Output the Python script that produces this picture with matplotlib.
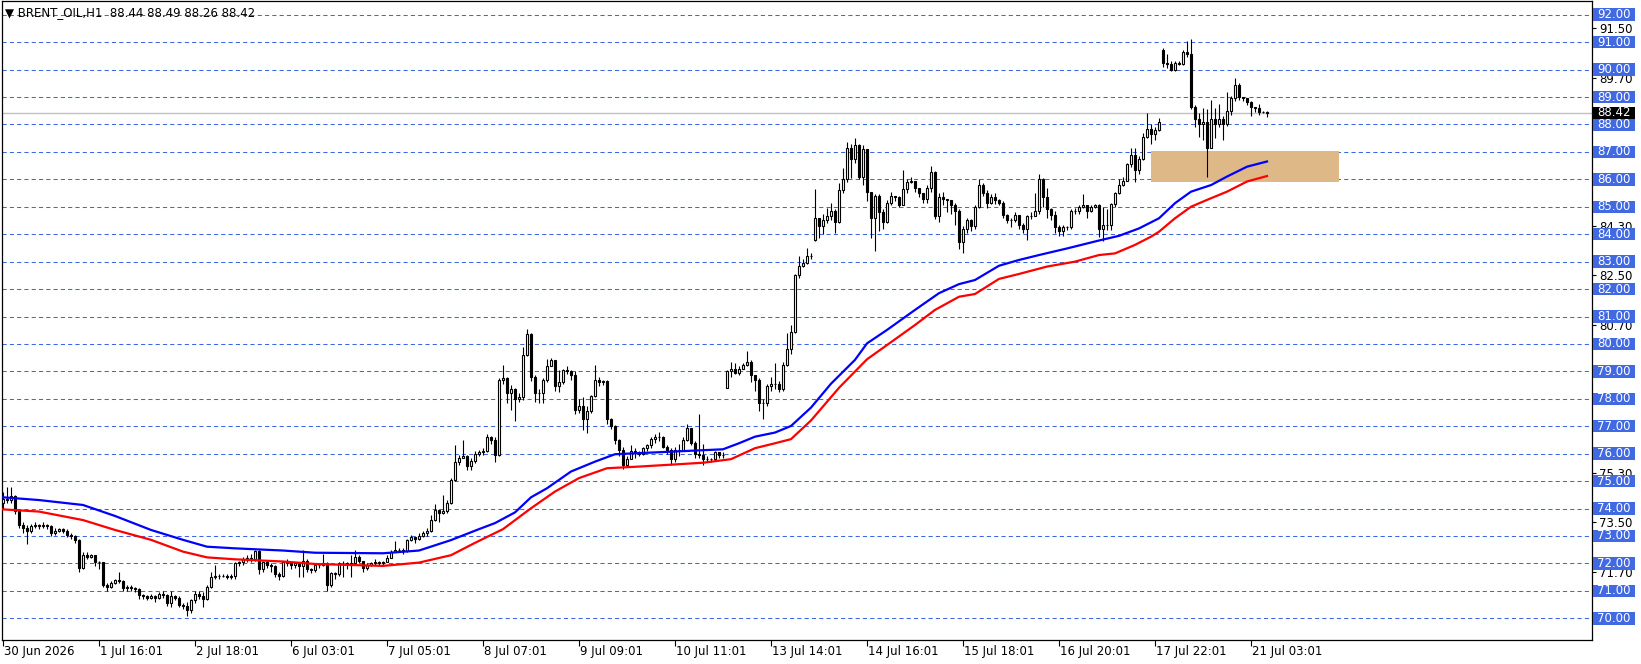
import matplotlib
matplotlib.use("Agg")
import matplotlib.pyplot as plt
from matplotlib.patches import Rectangle
import numpy as np

plt.rcParams["font.family"] = ["DejaVu Sans"]

# datos de velas H1, una fila = 10 velas
close = [
    74.35, 74.30, 74.45, 73.90, 73.40, 73.30, 73.20, 73.35, 73.40, 73.35,
    73.40, 73.35, 73.10, 73.20, 73.25, 73.20, 73.05, 73.00, 72.85, 71.85,
    72.30, 72.25, 72.30, 72.05, 72.05, 71.20, 71.15, 71.30, 71.40, 71.35,
    71.10, 71.15, 71.10, 71.05, 70.85, 70.80, 70.75, 70.80, 70.75, 70.90,
    70.85, 70.55, 70.80, 70.75, 70.50, 70.45, 70.30, 70.65, 70.90, 70.80,
    70.70, 71.15, 71.50, 71.55, 71.55, 71.55, 71.50, 71.55, 72.00, 72.05,
    72.15, 72.20, 72.15, 72.45, 71.80, 72.05, 71.95, 71.90, 71.60, 71.55,
    72.05, 72.00, 71.95, 72.00, 71.90, 72.10, 71.80, 71.75, 71.95, 71.95,
    72.00, 71.20, 71.65, 71.60, 72.00, 72.00, 71.95, 72.00, 72.25, 72.10,
    71.85, 71.95, 72.00, 72.05, 72.00, 72.05, 72.20, 72.40, 72.50, 72.50,
    72.45, 72.85, 72.95, 72.90, 73.00, 73.10, 73.20, 73.60, 73.95, 73.85,
    73.90, 74.20, 75.05, 75.70, 75.85, 75.90, 75.55, 75.75, 76.00, 76.05,
    76.10, 76.60, 76.50, 75.95, 78.70, 78.75, 78.20, 78.35, 78.00, 78.05,
    79.60, 80.35, 78.80, 78.20, 78.20, 78.70, 79.20, 79.40, 78.45, 78.60,
    79.05, 79.00, 78.85, 77.60, 77.75, 77.25, 77.55, 78.10, 78.70, 78.60,
    78.65, 77.25, 77.00, 76.50, 76.15, 75.60, 75.80, 76.10, 76.05, 76.00,
    76.20, 76.30, 76.55, 76.60, 76.60, 76.25, 76.15, 75.80, 76.15, 76.15,
    76.50, 76.95, 76.40, 76.00, 75.95, 75.80, 75.80, 75.80, 76.05, 75.95,
    75.95, 79.00, 79.10, 78.95, 79.10, 79.25, 79.35, 78.85, 78.70, 77.85,
    77.85, 78.45, 78.55, 78.55, 78.35, 79.25, 79.80, 80.45, 82.50, 82.85,
    82.95, 83.20, 83.20, 84.60, 84.30, 84.50, 84.65, 84.85, 84.45, 85.60,
    86.00, 87.15, 86.75, 87.25, 86.10, 87.10, 85.55, 84.60, 85.40, 84.80,
    84.45, 85.15, 85.40, 85.35, 85.05, 85.65, 85.90, 85.95, 85.70, 85.50,
    85.30, 85.70, 86.25, 84.65, 85.35, 85.30, 85.25, 85.05, 84.85, 83.70,
    84.20, 84.50, 84.30, 85.00, 85.80, 85.50, 85.15, 85.35, 85.25, 85.15,
    84.70, 84.50, 84.50, 84.70, 84.35, 84.20, 84.65, 84.65, 84.85, 86.00,
    85.35, 84.90, 84.70, 84.25, 84.10, 84.25, 84.25, 84.85, 84.85, 85.00,
    85.05, 84.85, 85.00, 85.05, 84.20, 84.35, 84.35, 85.10, 85.50, 85.80,
    85.95, 86.55, 86.90, 86.35, 86.75, 87.55, 87.85, 87.65, 87.80, 88.10,
    90.25, 90.20, 90.00, 90.25, 90.20, 90.65, 90.55, 88.65, 88.20, 88.00,
    88.10, 87.15, 88.20, 88.00, 88.20, 88.00, 88.50, 88.95, 89.45, 89.00,
    88.95, 88.80, 88.65, 88.60, 88.45, 88.44, 88.42,
]

high = [
    74.60, 74.80, 74.80, 74.50, 73.90, 73.50, 73.40, 73.45, 73.50, 73.45,
    73.50, 73.45, 73.40, 73.30, 73.30, 73.30, 73.25, 73.10, 73.05, 72.90,
    72.40, 72.40, 72.35, 72.30, 72.10, 72.05, 71.30, 71.35, 71.45, 71.70,
    71.40, 71.20, 71.20, 71.15, 71.10, 70.90, 70.85, 70.90, 70.85, 70.95,
    71.00, 70.90, 71.00, 70.85, 70.80, 70.55, 70.60, 70.70, 71.00, 71.00,
    70.95, 71.20, 71.70, 71.95, 71.60, 71.60, 71.60, 71.60, 72.05, 72.10,
    72.25, 72.30, 72.35, 72.50, 72.50, 72.10, 72.10, 72.00, 71.95, 71.70,
    72.10, 72.15, 72.05, 72.05, 72.00, 72.50, 72.15, 71.85, 72.00, 72.00,
    72.35, 72.05, 71.70, 71.70, 72.05, 72.10, 72.05, 72.30, 72.50, 72.30,
    72.10, 72.00, 72.05, 72.15, 72.10, 72.10, 72.30, 72.50, 72.80, 72.55,
    72.55, 72.90, 73.05, 73.00, 73.10, 73.20, 73.30, 73.75, 74.15, 74.00,
    74.50, 74.30, 75.10, 76.30, 75.95, 76.50, 75.95, 75.85, 76.10, 76.15,
    76.20, 76.70, 76.65, 76.60, 78.75, 79.25, 78.80, 78.50, 78.40, 78.20,
    79.90, 80.55, 80.40, 78.85, 78.35, 78.75, 79.45, 79.50, 78.60, 79.05,
    79.10, 79.20, 79.05, 79.00, 78.00, 78.05, 77.75, 78.15, 79.25, 78.80,
    78.70, 78.70, 77.30, 77.05, 76.55, 76.25, 75.90, 76.30, 76.20, 76.10,
    76.25, 76.35, 76.60, 76.70, 76.80, 76.65, 76.30, 76.20, 76.25, 76.35,
    76.60, 77.10, 76.95, 76.45, 77.45, 76.35, 75.90, 75.85, 76.10, 76.05,
    76.05, 79.05, 79.35, 79.30, 79.20, 79.30, 79.75, 79.40, 78.85, 78.75,
    78.00, 78.55, 78.80, 79.30, 78.65, 79.35, 80.40, 80.70, 82.55, 83.20,
    83.10, 83.50, 83.30, 85.65, 84.55, 84.75, 84.95, 85.15, 84.90, 85.85,
    86.40, 87.35, 87.30, 87.50, 87.30, 87.25, 87.10, 85.50, 85.45, 85.45,
    84.90, 85.25, 85.55, 85.40, 85.40, 86.35, 86.00, 86.10, 85.85, 85.60,
    85.45, 85.80, 86.50, 86.30, 85.50, 85.55, 85.30, 85.15, 85.15, 84.90,
    84.30, 84.60, 84.55, 85.05, 86.00, 85.85, 85.60, 85.45, 85.50, 85.30,
    85.20, 84.75, 84.60, 84.80, 84.65, 84.40, 84.70, 84.80, 85.50, 86.20,
    86.05, 85.70, 84.95, 84.85, 84.35, 84.35, 84.30, 84.90, 84.95, 85.05,
    85.45, 85.05, 85.05, 85.10, 85.10, 85.00, 84.90, 85.15, 85.55, 86.00,
    86.10, 86.60, 87.15, 87.15, 86.85, 87.70, 88.40, 88.00, 87.90, 88.25,
    90.80, 90.55, 90.30, 90.30, 90.30, 90.70, 91.05, 91.10, 88.70, 88.40,
    88.60, 88.55, 88.90, 88.60, 88.75, 88.30, 89.20, 89.05, 89.70, 89.50,
    89.00, 88.95, 88.85, 88.65, 88.75, 88.50, 88.49,
]

low = [
    74.00, 74.20, 74.20, 73.80, 73.30, 73.10, 72.70, 73.10, 73.30, 73.25,
    73.30, 73.25, 73.00, 73.05, 73.15, 73.10, 72.95, 72.90, 72.75, 71.70,
    71.80, 72.15, 72.20, 71.90, 71.80, 71.15, 71.00, 71.10, 71.25, 71.30,
    71.00, 71.00, 71.00, 70.95, 70.70, 70.70, 70.65, 70.70, 70.60, 70.70,
    70.75, 70.45, 70.40, 70.65, 70.40, 70.35, 70.10, 70.20, 70.55, 70.70,
    70.40, 70.65, 71.10, 71.45, 71.45, 71.50, 71.45, 71.45, 71.45, 71.90,
    71.95, 72.05, 72.05, 72.10, 71.60, 71.70, 71.85, 71.70, 71.50, 71.40,
    71.50, 71.90, 71.80, 71.85, 71.50, 71.50, 71.70, 71.65, 71.70, 71.85,
    71.90, 71.00, 71.15, 71.45, 71.55, 71.50, 71.80, 71.50, 71.95, 72.00,
    71.70, 71.75, 71.90, 71.95, 71.95, 71.95, 72.10, 72.20, 72.40, 72.40,
    72.35, 72.40, 72.80, 72.75, 72.85, 72.95, 73.00, 73.15, 73.55, 73.50,
    73.80, 73.85, 74.15, 75.00, 75.60, 75.85, 75.40, 75.40, 75.65, 75.90,
    75.95, 76.05, 76.35, 75.70, 75.90, 78.55, 77.85, 77.60, 77.20, 77.90,
    77.95, 79.55, 78.65, 77.90, 77.85, 77.85, 78.60, 79.25, 78.30, 78.25,
    78.55, 78.90, 78.70, 77.45, 77.50, 76.85, 76.75, 77.50, 78.05, 78.45,
    78.50, 77.10, 76.90, 76.35, 75.90, 75.45, 75.50, 75.80, 75.85, 75.90,
    75.95, 76.10, 76.20, 76.40, 76.45, 76.20, 76.00, 75.60, 75.70, 75.90,
    76.10, 76.45, 76.30, 75.85, 75.85, 75.60, 75.70, 75.70, 75.75, 75.85,
    75.85, 78.40, 78.80, 78.90, 78.85, 79.15, 79.20, 78.60, 78.30, 77.55,
    77.25, 77.75, 78.30, 78.35, 78.25, 78.30, 79.20, 79.65, 80.40, 82.40,
    82.80, 82.90, 83.10, 83.75, 83.85, 84.00, 84.40, 84.50, 84.05, 84.40,
    85.50, 85.90, 86.05, 86.60, 86.00, 85.80, 85.20, 83.85, 83.40, 84.10,
    84.20, 84.40, 85.05, 85.20, 85.00, 85.10, 85.50, 85.85, 85.55, 85.35,
    85.15, 85.15, 85.55, 84.55, 84.45, 85.05, 84.80, 84.75, 84.35, 83.45,
    83.30, 84.05, 84.10, 84.20, 84.95, 85.40, 84.95, 85.10, 85.10, 85.05,
    84.60, 84.40, 84.25, 84.45, 84.20, 84.05, 83.80, 84.55, 84.65, 84.75,
    85.00, 84.60, 84.50, 84.05, 83.95, 83.95, 84.15, 84.20, 84.75, 84.75,
    84.95, 84.60, 84.80, 84.95, 83.90, 83.75, 84.15, 84.15, 85.00, 85.45,
    85.75, 85.95, 86.45, 85.90, 86.20, 86.70, 87.50, 87.30, 87.45, 87.75,
    90.10, 90.05, 89.95, 89.95, 90.15, 90.15, 90.45, 88.55, 87.90, 87.55,
    87.45, 86.10, 87.15, 87.50, 87.90, 87.45, 87.95, 88.35, 88.85, 88.90,
    88.85, 88.70, 88.30, 88.45, 88.35, 88.40, 88.26,
]

first_open = 74.20
# velas que abren con hueco (fin de semana / salto)
gap_opens = {181: 78.40, 203: 83.80, 290: 90.70}

# medias moviles (azul y roja), puntos leidos: indice de vela -> precio
blue_bar = [0, 9, 20, 28, 37, 45, 51, 58, 70, 78, 95, 104, 112, 119, 123, 128,
            132, 136, 142, 148, 153, 159, 180, 184, 188, 193, 197, 202, 207, 213,
            216, 221, 228, 234, 239, 243, 249, 254, 259, 266, 274, 279, 284, 289,
            293, 297, 302, 306, 311, 316]
blue_ma = [74.41, 74.31, 74.13, 73.73, 73.22, 72.86, 72.61, 72.55, 72.47, 72.39,
           72.37, 72.47, 72.85, 73.25, 73.47, 73.86, 74.41, 74.74, 75.35, 75.71,
           75.98, 76.02, 76.16, 76.38, 76.62, 76.77, 77.01, 77.68, 78.55, 79.42,
           80.02, 80.51, 81.24, 81.85, 82.18, 82.33, 82.85, 83.06, 83.24, 83.48,
           83.77, 83.94, 84.21, 84.58, 85.13, 85.55, 85.79, 86.10, 86.46, 86.65]

red_bar = [0, 9, 20, 28, 37, 45, 51, 58, 70, 78, 95, 104, 112, 118, 125, 132,
           138, 144, 151, 159, 175, 182, 188, 193, 197, 202, 209, 216, 221, 228,
           233, 239, 243, 249, 254, 261, 268, 274, 278, 283, 287, 289, 293, 297,
           301, 306, 311, 316]
red_ma = [73.97, 73.89, 73.58, 73.22, 72.86, 72.43, 72.22, 72.15, 72.07, 71.98,
          71.91, 72.03, 72.30, 72.75, 73.25, 74.01, 74.62, 75.11, 75.47, 75.53,
          75.67, 75.80, 76.20, 76.38, 76.53, 77.21, 78.40, 79.44, 79.96, 80.69,
          81.24, 81.72, 81.82, 82.37, 82.55, 82.82, 83.00, 83.24, 83.30, 83.61,
          83.91, 84.09, 84.58, 85.00, 85.25, 85.55, 85.92, 86.12]

# zona de soporte (rectangulo)
zone_bars = (287, 334)
zone_prices = (85.92, 87.05)

last_price = 88.42
title = "\u25bc BRENT_OIL,H1  88.44 88.49 88.26 88.42"

tick_labels = ["30 Jun 2026", "1 Jul 16:01", "2 Jul 18:01", "6 Jul 03:01",
               "7 Jul 05:01", "8 Jul 07:01", "9 Jul 09:01", "10 Jul 11:01",
               "13 Jul 14:01", "14 Jul 16:01", "15 Jul 18:01", "16 Jul 20:01",
               "17 Jul 22:01", "21 Jul 03:01"]
bars_per_label = 24

level_lines = list(range(70, 93))
scale_ticks = [71.70, 73.50, 75.30, 77.10, 78.90, 80.70, 82.50, 84.30,
               86.10, 87.90, 89.70, 91.50]
# las etiquetas 78.90 y 87.90 quedan tapadas por las cajas de nivel
scale_labels = ["71.70", "73.50", "75.30", "77.10", "", "80.70", "82.50",
                "84.30", "86.10", "", "89.70", "91.50"]

GRID_BLUE = "#3f67e0"
BOX_BLUE = "#4169e1"
FS = 8.5

# ---------------------------------------------------------------
W, H = 1641, 664
fig = plt.figure(figsize=(W / 100, H / 100), dpi=100)
ax = fig.add_axes([2 / W, 24 / H, 1590 / W, 639 / H])

c = np.array(close)
hi = np.array(high)
lo = np.array(low)
o = np.empty_like(c)
o[0] = first_open
o[1:] = c[:-1]
for k, v in gap_opens.items():
    o[k] = v
hi = np.maximum(hi, np.maximum(o, c))
lo = np.minimum(lo, np.minimum(o, c))
idx = np.arange(len(c))

px_per_unit = (618.3 - 14.7) / 22
ax.set_ylim(92 - (640 - 14.7) / px_per_unit, 92 + (14.7 - 1) / px_per_unit)
ax.set_xlim(-0.25, 397.25)

# lineas de nivel
for v in level_lines:
    ax.axhline(v, color=GRID_BLUE, lw=0.75, ls=(0, (4, 3)), zorder=0.5)
ax.axhline(last_price, color="#c0c0c0", lw=1.0, zorder=0.6)

ax.add_patch(Rectangle((zone_bars[0], zone_prices[0]), zone_bars[1] - zone_bars[0],
                       zone_prices[1] - zone_prices[0], facecolor="#deb887",
                       edgecolor="none", zorder=1))

# velas
ax.vlines(idx, lo, hi, color="black", lw=0.8, zorder=2)
bull = c >= o
body_bottom = np.minimum(o, c)
body_h = np.abs(c - o)
ax.bar(idx[bull], body_h[bull], bottom=body_bottom[bull], width=0.7,
       color="white", edgecolor="black", lw=0.8, zorder=3)
ax.bar(idx[~bull], body_h[~bull], bottom=body_bottom[~bull], width=0.7,
       color="black", edgecolor="black", lw=0.8, zorder=3)

ax.plot(blue_bar, blue_ma, color="#0000ff", lw=1.6, zorder=4)
ax.plot(red_bar, red_ma, color="#ff0000", lw=1.6, zorder=4)

# eje derecho
ax.yaxis.tick_right()
ax.set_yticks(scale_ticks)
ax.set_yticklabels(scale_labels)
ax.tick_params(axis="y", length=3, width=0.8, labelsize=FS, pad=2, colors="black")

ytrans = ax.get_yaxis_transform()
box_h = 12.5 / px_per_unit
box_x0 = (1593 - 2) / 1590
box_w = 42 / 1590
for v in level_lines:
    ax.add_patch(Rectangle((box_x0, v - box_h / 2), box_w, box_h, transform=ytrans,
                           facecolor=BOX_BLUE, edgecolor="none", clip_on=False, zorder=5))
    ax.text(box_x0 + box_w / 2, v, f"{v:.2f}", transform=ytrans, ha="center",
            va="center", color="white", fontsize=FS, clip_on=False, zorder=6)
ax.add_patch(Rectangle((box_x0, last_price - box_h / 2), box_w, box_h, transform=ytrans,
                       facecolor="black", edgecolor="none", clip_on=False, zorder=5))
ax.text(box_x0 + box_w / 2, last_price, f"{last_price:.2f}", transform=ytrans,
        ha="center", va="center", color="white", fontsize=FS, clip_on=False, zorder=6)

# eje inferior
tick_pos = [i * bars_per_label for i in range(len(tick_labels))]
ax.set_xticks(tick_pos)
ax.tick_params(axis="x", length=4, width=0.8, labelbottom=False, colors="black")
xtrans = ax.get_xaxis_transform()
for p, lab in zip(tick_pos, tick_labels):
    ax.text(p + 0.2, -11 / 639, lab, transform=xtrans, ha="left", va="center",
            fontsize=FS, color="black", clip_on=False)

for s in ax.spines.values():
    s.set_color("black")
    s.set_linewidth(0.9)

fig.text(5 / W, 1 - 12.5 / H, title, ha="left", va="center", fontsize=FS, color="black")

fig.savefig("out.png", dpi=100, facecolor="white")
